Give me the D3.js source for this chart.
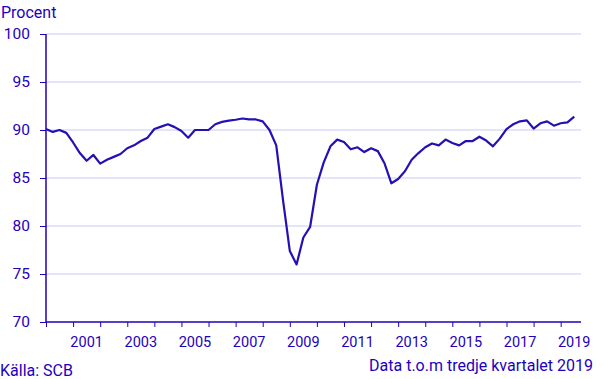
<!DOCTYPE html>
<html>
<head>
<meta charset="utf-8">
<script src="https://cdn.jsdelivr.net/npm/d3@7"></script>
<style>
  body { margin: 0; background: #fff; }
  svg { display: block; font-family: Roboto, "Noto Sans", sans-serif; }
</style>
</head>
<body>
<svg id="chart" width="606" height="379"></svg>
<script>
// quarterly values, 2000 Q1 .. 2019 Q3
const values = [
  90.1, 89.8, 90.0, 89.7, 88.7, 87.6, 86.8, 87.4,
  86.5, 86.9, 87.2, 87.5, 88.1, 88.4, 88.85, 89.2,
  90.1, 90.35, 90.6, 90.3, 89.9, 89.2, 90.0, 90.0,
  90.0, 90.6, 90.85, 90.97, 91.07, 91.2, 91.1, 91.1,
  90.9, 90.0, 88.4, 82.7, 77.4, 76.0, 78.8, 79.9,
  84.3, 86.6, 88.3, 89.0, 88.75, 88.0, 88.2, 87.7,
  88.1, 87.8, 86.5, 84.45, 84.9, 85.7, 86.9, 87.6,
  88.2, 88.6, 88.4, 89.0, 88.65, 88.4, 88.85, 88.85,
  89.3, 88.9, 88.3, 89.1, 90.1, 90.6, 90.9, 91.0,
  90.15, 90.7, 90.9, 90.45, 90.7, 90.8, 91.4
];
const startYear = 2000;
const labelYears = [2001, 2003, 2005, 2007, 2009, 2011, 2013, 2015, 2017, 2019];
const yTicks = [70, 75, 80, 85, 90, 95, 100];

const ink = "#1e00be";
const lineColor = "#2410b4";
const gridColor = "#c8c8f4";

const svg = d3.select("#chart");
const plotLeft = 46, plotRight = 581, plotTop = 34, plotBottom = 322;

// x in quarter index (0 = 2000 Q1); axis runs one quarter past the last point
const x = d3.scaleLinear([0, 79], [plotLeft, plotRight]);
const y = d3.scaleLinear([70, 100], [plotBottom, plotTop]);

// grid
svg.append("g")
  .selectAll("line")
  .data(yTicks.filter(d => d > 70))
  .join("line")
  .attr("x1", plotLeft).attr("x2", plotRight)
  .attr("y1", d => y(d)).attr("y2", d => y(d))
  .attr("stroke", gridColor).attr("stroke-width", 1);

// y axis
const yAxis = svg.append("g")
  .attr("transform", `translate(${plotLeft},0)`)
  .call(d3.axisLeft(y).tickValues(yTicks).tickSize(6).tickPadding(10));
yAxis.select(".domain").attr("stroke", ink).attr("stroke-width", 1.5).attr("d", `M0,${plotTop}V${plotBottom}`);
yAxis.selectAll(".tick line").attr("stroke", ink);
yAxis.selectAll(".tick text").attr("fill", ink).style("font-size", "15.5px").style("font-family", "Roboto, sans-serif");

// x axis: tick at each year start, labels centered in year band
const yearTicks = d3.range(0, 80, 4);
const xAxis = svg.append("g")
  .attr("transform", `translate(0,${plotBottom})`)
  .call(d3.axisBottom(x).tickValues(yearTicks).tickSize(5).tickFormat(""));
xAxis.select(".domain").attr("stroke", ink).attr("stroke-width", 1.5).attr("d", `M${plotLeft},0H${plotRight}`);
xAxis.selectAll(".tick line").attr("stroke", ink);

svg.append("g")
  .selectAll("text")
  .data(labelYears)
  .join("text")
  .attr("x", d => x((d - startYear) * 4 + 2))
  .attr("y", 347)
  .attr("text-anchor", "middle")
  .attr("fill", ink)
  .style("font-size", "14.5px")
  .text(d => d);

// line
const line = d3.line()
  .x((d, i) => x(i))
  .y(d => y(d));
svg.append("path")
  .datum(values)
  .attr("fill", "none")
  .attr("stroke", lineColor)
  .attr("stroke-width", 2.2)
  .attr("stroke-linejoin", "round")
  .attr("d", line);

// texts
svg.append("text").attr("x", 1).attr("y", 18).attr("fill", ink)
  .style("font-size", "16px").text("Procent");
svg.append("text").attr("x", 0).attr("y", 376).attr("fill", ink)
  .style("font-size", "16px").text("Källa: SCB");
svg.append("text").attr("x", 593).attr("y", 371).attr("text-anchor", "end").attr("fill", ink)
  .style("font-size", "16px").text("Data t.o.m tredje kvartalet 2019");
</script>
</body>
</html>
